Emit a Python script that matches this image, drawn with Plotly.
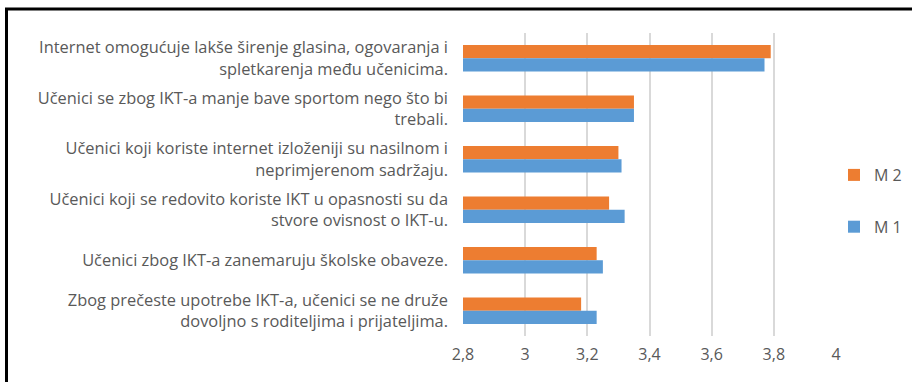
import plotly.graph_objects as go

# Survey statements (top to bottom) and mean scores for two measurements
statements = [
    "Internet omogućuje lakše širenje glasina, ogovaranja i<br>spletkarenja među učenicima.",
    "Učenici se zbog IKT-a manje bave sportom nego što bi<br>trebali.",
    "Učenici koji koriste internet izloženiji su nasilnom i<br>neprimjerenom sadržaju.",
    "Učenici koji se redovito koriste IKT u opasnosti su da<br>stvore ovisnost o IKT-u.",
    "Učenici zbog IKT-a zanemaruju školske obaveze.",
    "Zbog prečeste upotrebe IKT-a, učenici se ne druže<br>dovoljno s roditeljima i prijateljima.",
]
m2 = [3.79, 3.35, 3.30, 3.27, 3.23, 3.18]
m1 = [3.77, 3.35, 3.31, 3.32, 3.25, 3.23]

tick_vals = [2.8, 3.0, 3.2, 3.4, 3.6, 3.8, 4.0]
tick_text = ["2,8", "3", "3,2", "3,4", "3,6", "3,8", "4"]

W, H = 912, 382
ml, mr, mt, mb = 463, 76, 33, 46

fig = go.Figure()
fig.add_trace(go.Bar(name="M 2", y=statements, x=m2, orientation="h",
                     marker=dict(color="#ED7D31", line=dict(width=0)),
                     legendgroup="m2"))
fig.add_trace(go.Bar(name="M 1", y=statements, x=m1, orientation="h",
                     marker=dict(color="#5B9BD5", line=dict(width=0)),
                     legendgroup="m1"))

# Outer frame around the chart area
pw = W - ml - mr
ph = H - mt - mb
def px_x(v):
    return (v - ml) / pw
def px_y(v):
    return (H - mb - v) / ph

fig.add_shape(type="rect", xref="paper", yref="paper",
              x0=px_x(6.5), x1=px_x(930), y0=px_y(9), y1=px_y(400),
              line=dict(color="black", width=3), fillcolor="rgba(0,0,0,0)",
              layer="above")

fig.update_layout(
    width=W, height=H,
    margin=dict(l=ml, r=mr, t=mt, b=mb, autoexpand=False),
    paper_bgcolor="white", plot_bgcolor="white",
    barmode="group", bargap=0.48, bargroupgap=0,
    font=dict(family="Open Sans", size=16, color="#595959"),
    showlegend=True,
    legend=dict(x=px_x(834), y=px_y(201), xanchor="left", yanchor="middle",
                tracegroupgap=28, font=dict(size=16, color="#595959"),
                itemwidth=30,
                bgcolor="rgba(0,0,0,0)"),
    xaxis=dict(range=[2.8, 4.0], tickvals=tick_vals, ticktext=tick_text,
               showgrid=True, gridcolor="#D9D9D9", gridwidth=1.5,
               zeroline=False, showline=False, ticks="",
               ticklabelstandoff=7,
               tickfont=dict(size=16, color="#595959")),
    yaxis=dict(autorange="reversed", showgrid=False, zeroline=False,
               showline=False, ticks="", ticklabelstandoff=14,
               tickfont=dict(size=16.4, color="#595959")),
)

fig.write_html("out.html")
